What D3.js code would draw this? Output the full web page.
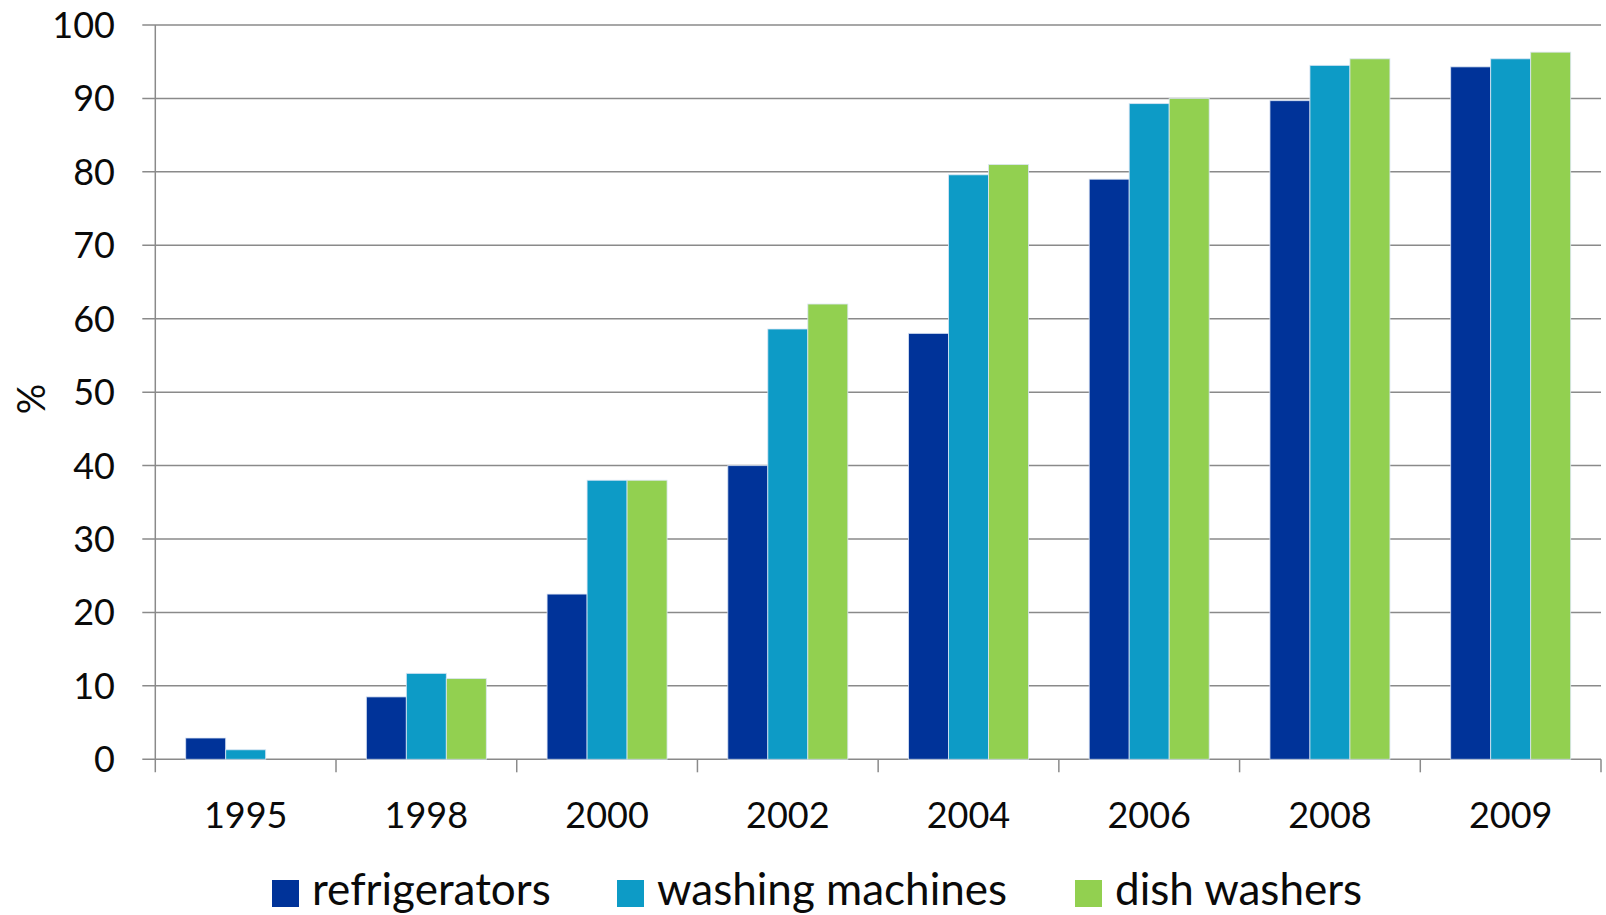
<!DOCTYPE html>
<html><head><meta charset="utf-8">
<script src="https://cdn.jsdelivr.net/npm/d3@7"></script>
<style>html,body{margin:0;padding:0;background:#fff;}svg{display:block;}</style>
</head><body>
<svg id="chart" width="1606" height="915"></svg>
<script>
const categories = ["1995","1998","2000","2002","2004","2006","2008","2009"];
const seriesNames = ["refrigerators","washing machines","dish washers"];
const refrigerators = [2.9, 8.5, 22.5, 40.0, 58.0, 79.0, 89.7, 94.3];
const washingMachines = [1.3, 11.7, 38.0, 58.6, 79.6, 89.3, 94.5, 95.4];
const dishWashers = [0, 11.0, 38.0, 62.0, 81.0, 90.0, 95.4, 96.3];
const yTicks = [0,10,20,30,40,50,60,70,80,90,100];
const colors = ["#003399","#0d9bc6","#92d050"];
const seriesValues = [refrigerators, washingMachines, dishWashers];

(function(){
const svg = d3.select("#chart");
const font = "Lato, 'Open Sans', sans-serif";
const mLeft = 155.3, mRight = 1601, mTop = 25, mBottom = 759.3;

const x = d3.scaleBand().domain(categories).range([mLeft, mRight]).padding(0);
const bw = x.bandwidth();
const pad = bw * 0.168;
const xs = d3.scaleBand().domain(seriesNames).range([pad, bw - pad]).padding(0);
const y = d3.scaleLinear().domain([0, 100]).range([mBottom, mTop]);

svg.append("g").selectAll("line").data(yTicks).join("line")
  .attr("x1", mLeft - 13).attr("x2", mRight)
  .attr("y1", d => y(d)).attr("y2", d => y(d))
  .attr("stroke", "#8a8a8a").attr("stroke-width", 1.5);

svg.append("line").attr("x1", mLeft).attr("x2", mLeft)
  .attr("y1", mTop).attr("y2", mBottom + 13)
  .attr("stroke", "#8a8a8a").attr("stroke-width", 1.5);

const bounds = categories.map(c => x(c)).concat([mRight]);
svg.append("g").selectAll("line").data(bounds.slice(1)).join("line")
  .attr("x1", d => d).attr("x2", d => d)
  .attr("y1", mBottom).attr("y2", mBottom + 13)
  .attr("stroke", "#8a8a8a").attr("stroke-width", 1.5);

const data = [];
categories.forEach((c, i) => seriesNames.forEach((s, j) => data.push({c, s, v: seriesValues[j][i], j})));
svg.append("g").selectAll("rect").data(data.filter(d => d.v > 0)).join("rect")
  .attr("x", d => x(d.c) + xs(d.s))
  .attr("width", xs.bandwidth())
  .attr("y", d => y(d.v))
  .attr("height", d => y(0) - y(d.v))
  .attr("fill", d => colors[d.j])
  .attr("stroke", "rgba(220,230,245,0.8)").attr("stroke-width", 1);

svg.append("g").selectAll("text").data(yTicks).join("text")
  .attr("x", 115).attr("y", d => y(d))
  .attr("dy", "0.36em")
  .attr("text-anchor", "end")
  .attr("font-family", font).attr("font-size", 36).attr("fill", "#0a0a0a")
  .text(d => d);

svg.append("g").selectAll("text").data(categories).join("text")
  .attr("x", d => x(d) + bw / 2).attr("y", 828)
  .attr("text-anchor", "middle")
  .attr("font-family", font).attr("font-size", 36).attr("fill", "#0a0a0a")
  .text(d => d);

svg.append("text")
  .attr("transform", "translate(45,399) rotate(-90)")
  .attr("text-anchor", "middle")
  .attr("font-family", font).attr("font-size", 38).attr("fill", "#0a0a0a")
  .text("%");

const legendX = [272, 617, 1075];
const lg = svg.append("g").selectAll("g").data(seriesNames).join("g")
  .attr("transform", (d, i) => `translate(${legendX[i]},880)`);
lg.append("rect").attr("width", 27).attr("height", 27).attr("fill", (d, i) => colors[i]);
lg.append("text").attr("x", 40).attr("y", 25)
  .attr("font-family", font).attr("font-size", 44).attr("fill", "#0a0a0a")
  .text(d => d);
})();
</script>
</body></html>
